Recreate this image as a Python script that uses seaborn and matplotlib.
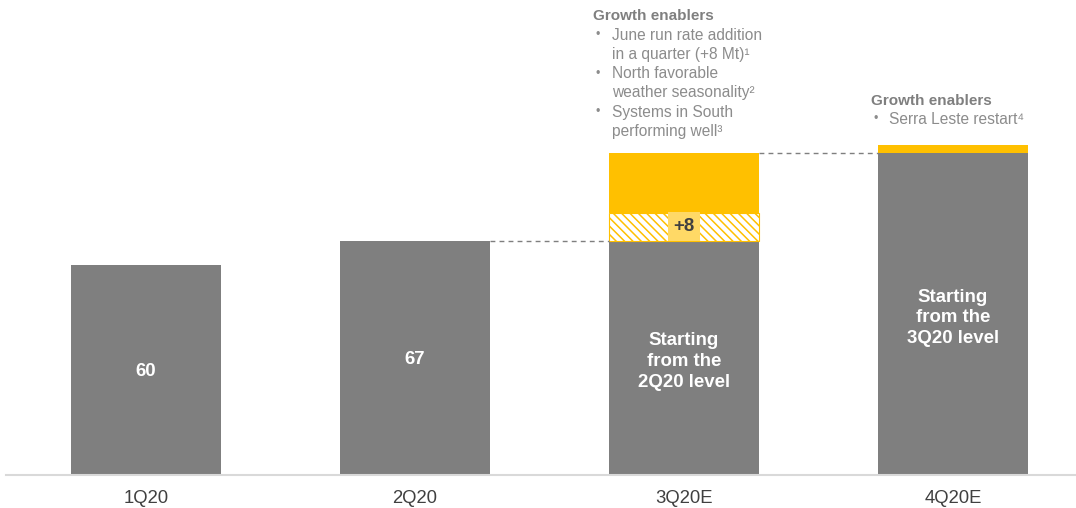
import matplotlib
matplotlib.use("Agg")
import matplotlib.pyplot as plt
import seaborn as sns
import pandas as pd

# ---- data ----
quarters = ["1Q20", "2Q20", "3Q20E", "4Q20E"]
base_values = [60, 67, 67, 92]
hatched_uplift = [0, 0, 8, 0]
yellow_uplift = [0, 0, 17, 2.4]
inside_labels = ["60", "67", "Starting\nfrom the\n2Q20 level", "Starting\nfrom the\n3Q20 level"]
enablers_3q = [["June run rate addition", "in a quarter (+8 Mt)¹"],
               ["North favorable", "weather seasonality²"],
               ["Systems in South", "performing well³"]]
enablers_4q = [["Serra Leste restart⁴"]]
uplift_label = "+8"

GRAY = "#7f7f7f"
YELLOW = "#FFC000"
TXT = "#8c8c8c"

sns.set_theme(style="white")
plt.rcParams["font.family"] = ["Liberation Sans", "DejaVu Sans"]
plt.rcParams["hatch.linewidth"] = 1.1

W, H = 1076, 508
fig = plt.figure(figsize=(W / 100, H / 100), dpi=100)
ax = fig.add_axes([6 / W, 33 / H, 1070 / W, 475 / H])

PX_X = 269.0   # px per category
PX_Y = 3.5     # px per unit
x0px, y0px = 146.0, 475.0

def dx(px):
    return (px - x0px) / PX_X

def dy(py):
    return (y0px - py) / PX_Y

df = pd.DataFrame({"quarter": quarters, "base": base_values})
bw = 0.56
sns.barplot(data=df, x="quarter", y="base", color=GRAY, saturation=1,
            width=bw, ax=ax, edgecolor="none", linewidth=0)

bottom2 = [b + h for b, h in zip(base_values, hatched_uplift)]
for i in range(len(quarters)):
    if hatched_uplift[i] > 0:
        ax.bar(i, hatched_uplift[i], bottom=base_values[i], width=bw, color="white",
               edgecolor=YELLOW, hatch="\\\\\\\\", linewidth=0.8)
    if yellow_uplift[i] > 0:
        ax.bar(i, yellow_uplift[i], bottom=bottom2[i], width=bw, color=YELLOW,
               edgecolor="none", linewidth=0)

ax.set_xlim(dx(6), dx(1076))
ax.set_ylim(0, dy(0))

# inside labels
for i, (b, lab) in enumerate(zip(base_values, inside_labels)):
    ax.text(i, b / 2, lab, ha="center", va="center_baseline", color="white",
            fontsize=13.4, fontweight="bold", linespacing=1.28)

# +8 label
for i, h in enumerate(hatched_uplift):
    if h:
        ax.text(i, base_values[i] + h / 2, uplift_label, ha="center", va="center",
                color="#404040", fontsize=13.4, fontweight="bold",
                bbox=dict(boxstyle="square,pad=0.3", facecolor="#FFD966", edgecolor="none"))

# dashed connector lines
totals = [b + h + y for b, h, y in zip(base_values, hatched_uplift, yellow_uplift)]
for i in range(1, 3):
    ax.plot([i + bw / 2, i + 1 - bw / 2], [totals[i], totals[i]],
            ls=(0, (3.5, 3)), color=GRAY, lw=1.0)

# growth enablers text
def enablers(hx, hy, bx, tx, items, line_px=19):
    ax.text(dx(hx), dy(hy), "Growth enablers", ha="left", va="center",
            color=GRAY, fontsize=11, fontweight="bold")
    y = hy + line_px
    for item in items:
        ax.text(dx(bx), dy(y), "•", ha="left", va="center", color=TXT, fontsize=9)
        for line in item:
            ax.text(dx(tx), dy(y), line, ha="left", va="center", color=TXT, fontsize=11.2)
            y += line_px

enablers(593, 16, 595, 612, enablers_3q, line_px=19.2)
enablers(871, 101, 873, 889, enablers_4q, line_px=18)

# axes styling
for s in ["top", "right", "left"]:
    ax.spines[s].set_visible(False)
ax.spines["bottom"].set_color("#d9d9d9")
ax.spines["bottom"].set_linewidth(1.5)
ax.set_yticks([])
ax.set_xlabel("")
ax.set_ylabel("")
ax.tick_params(axis="x", length=0, pad=11, labelsize=13.3, colors="#404040")

fig.savefig("out.png", dpi=100)
